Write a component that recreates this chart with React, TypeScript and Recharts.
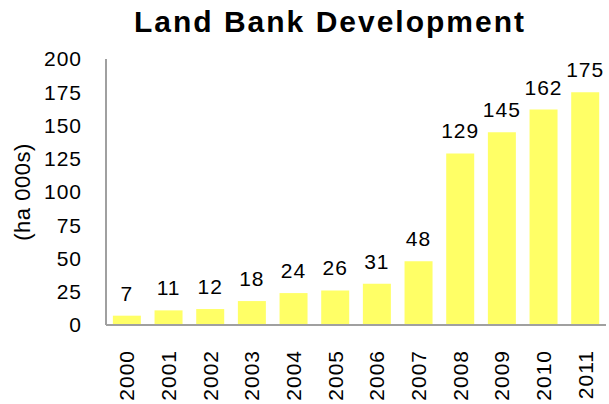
import { BarChart, Bar, XAxis, YAxis, LabelList } from "recharts";

const years = ["2000", "2001", "2002", "2003", "2004", "2005", "2006", "2007", "2008", "2009", "2010", "2011"];
const landBank = [7, 11, 12, 18, 24, 26, 31, 48, 129, 145, 162, 175];
const yTicks = [0, 25, 50, 75, 100, 125, 150, 175, 200];

const data = years.map((year, i) => ({ year, value: landBank[i] }));

const FONT = "Arial, 'Liberation Sans', sans-serif";

function YearTick(props: any) {
  const { x, y, payload } = props;
  return (
    <text
      x={x}
      y={y}
      transform={`rotate(-90 ${x} ${y})`}
      textAnchor="end"
      dy="0.36em"
      fontSize={21}
      letterSpacing={1}
      fontFamily={FONT}
      fill="#000"
    >
      {payload.value}
    </text>
  );
}

function UnitLabel(props: any) {
  const vb = props.viewBox || { x: 0, y: 0, width: 0, height: 0 };
  const cx = vb.x + 22;
  const cy = vb.y + vb.height / 2;
  return (
    <text
      x={cx}
      y={cy}
      transform={`rotate(-90 ${cx} ${cy})`}
      textAnchor="middle"
      dy="0.36em"
      fontSize={22}
      letterSpacing={0.5}
      fontFamily={FONT}
      fill="#000"
    >
      (ha 000s)
    </text>
  );
}

export default function App() {
  return (
    <div style={{ position: "absolute", left: 0, top: 0, width: 609, height: 404, background: "#fff", overflow: "hidden" }}>
      <div
        style={{
          position: "absolute",
          left: 0,
          top: 6,
          width: 660,
          textAlign: "center",
          fontFamily: FONT,
          fontWeight: "bold",
          fontSize: 30,
          letterSpacing: 2,
          lineHeight: "32px",
        }}
      >
        Land Bank Development
      </div>
      <BarChart
        width={609}
        height={404}
        data={data}
        margin={{ top: 59, right: 3, left: 0, bottom: 0 }}
        barCategoryGap="16.5%"
      >
        <XAxis
          dataKey="year"
          height={79}
          tickLine={false}
          tickSize={0}
          tickMargin={25}
          axisLine={{ stroke: "#a0a0a0", strokeWidth: 2 }}
          tick={<YearTick />}
          interval={0}
        />
        <YAxis
          width={106}
          domain={[0, 200]}
          ticks={yTicks}
          tickLine={false}
          tickSize={0}
          tickMargin={24}
          axisLine={{ stroke: "#a0a0a0", strokeWidth: 2 }}
          tick={{ fill: "#000", fontSize: 21, fontFamily: FONT, letterSpacing: 1 }}
          label={<UnitLabel />}
        />
        <Bar dataKey="value" fill="#ffff66" isAnimationActive={false}>
          <LabelList
            dataKey="value"
            position="top"
            offset={15}
            fill="#000"
            fontSize={21}
            fontFamily={FONT}
            letterSpacing={1}
          />
        </Bar>
      </BarChart>
    </div>
  );
}
